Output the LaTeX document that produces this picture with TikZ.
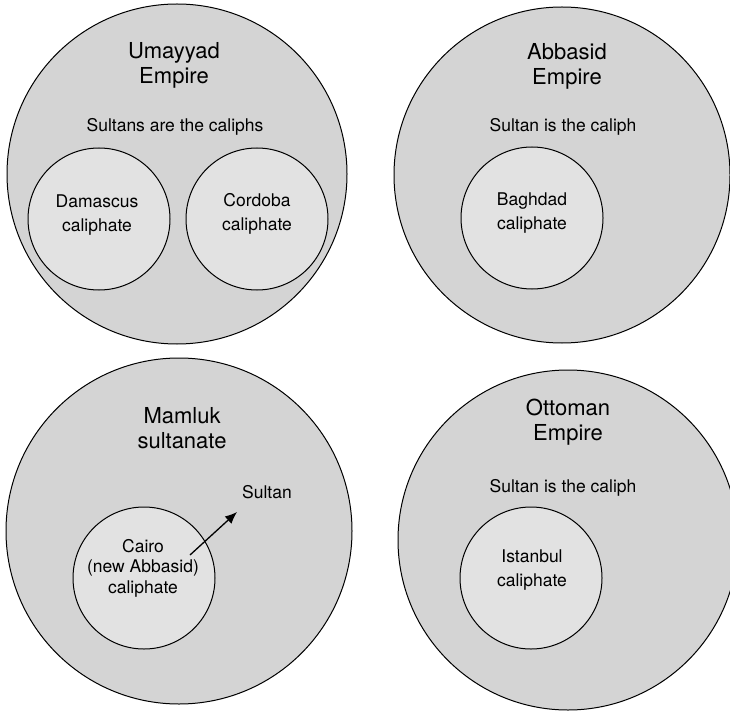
\documentclass[tikz,border=0pt]{standalone}
\usepackage{fontspec}
\setmainfont{TeX Gyre Heros}
\usetikzlibrary{arrows.meta}
\definecolor{EmpireClr}{HTML}{D4D4D4}
\definecolor{CaliphClr}{HTML}{E2E2E2}

\begin{document}
\begin{tikzpicture}[x=1pt,y=-1pt,
  empire/.style={circle,draw,line width=1pt,fill=EmpireClr,inner sep=0pt,minimum size=#1},
  caliphate/.style={circle,draw,line width=1pt,fill=CaliphClr,inner sep=0pt,minimum size=142pt},
  title/.style={align=center,inner sep=0pt,font=\fontsize{22}{25}\selectfont},
  txt/.style={align=center,inner sep=0pt,font=\fontsize{17.5}{24}\selectfont}]
\useasboundingbox (0,0) rectangle (730,711);

% Umayyad
\node[empire=340pt] (umayyad) at (177,174) {};
\node[caliphate] (damascus) at (99,219) {};
\node[caliphate] (cordoba) at (257,219) {};
\node[title] (umayyadT) at (174,65) {Umayyad\\Empire};
\node[txt] (umayyadS) at (175,127) {Sultans are the caliphs};
\node[txt] (damascusT) at (97,215) {Damascus\\caliphate};
\node[txt] (cordobaT) at (257,214) {Cordoba\\caliphate};

% Abbasid
\node[empire=336pt] (abbasid) at (562,175) {};
\node[caliphate] (baghdad) at (532,218) {};
\node[title] (abbasidT) at (567,66) {Abbasid\\Empire};
\node[txt] (abbasidS) at (563,127) {Sultan is the caliph};
\node[txt] (baghdadT) at (532,213) {Baghdad\\caliphate};

% Mamluk
\node[empire=346pt] (mamluk) at (179,531) {};
\node[caliphate] (cairo) at (144,578) {};
\node[title] (mamlukT) at (182,428) {Mamluk\\sultanate};
\node[txt] (sultan) at (267,492) {Sultan};
\node[txt,font=\fontsize{17.5}{20.5}\selectfont] (cairoT) at (143,568) {Cairo\\(new Abbasid)\\caliphate};
\coordinate (cairoOut) at (190,555);
\coordinate (sultanIn) at (237,512);
\draw[line width=1.3pt,-{Latex[length=12pt,width=10pt]}] (cairoOut) -- (sultanIn);

% Ottoman
\node[empire=340pt] (ottoman) at (568,540) {};
\node[caliphate] (istanbul) at (531,578) {};
\node[title] (ottomanT) at (568,422) {Ottoman\\Empire};
\node[txt] (ottomanS) at (563,488) {Sultan is the caliph};
\node[txt] (istanbulT) at (532,570) {Istanbul\\caliphate};

\end{tikzpicture}
\end{document}
